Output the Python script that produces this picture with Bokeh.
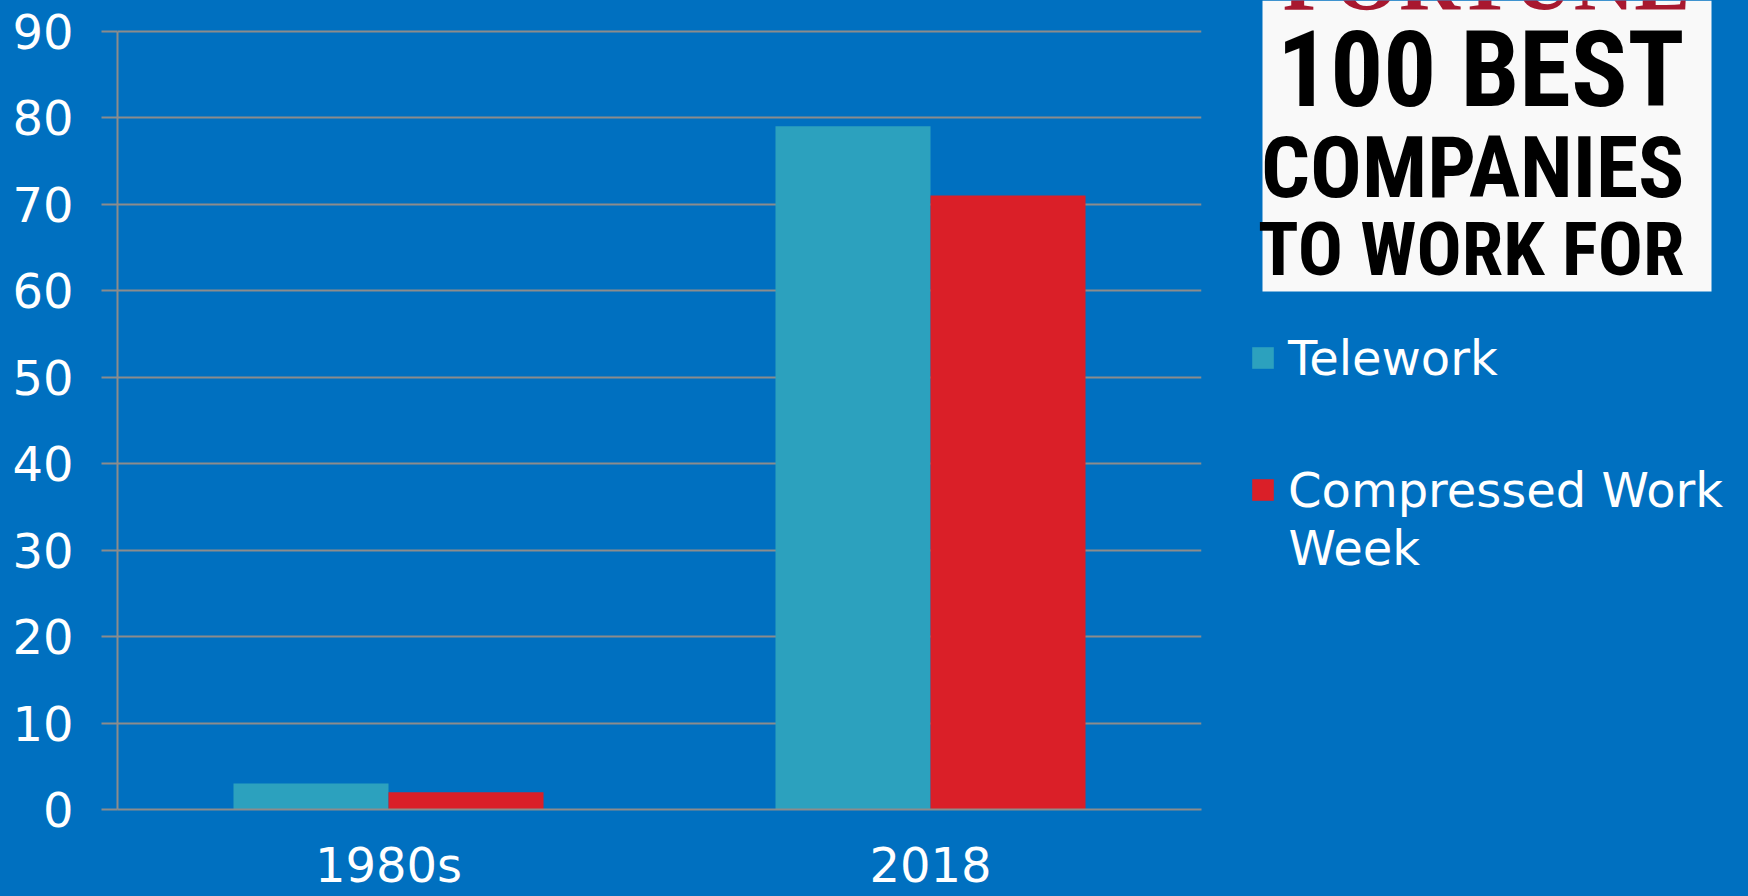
from bokeh.plotting import figure
from bokeh.models import (FactorRange, Range1d, ColumnDataSource, FixedTicker,
                          Legend, LegendItem)
from bokeh.transform import dodge
from bokeh.layouts import row
from bokeh.core.properties import value
from bokeh.embed import file_html
from bokeh.resources import INLINE

# ---- data ----
categories = ["1980s", "2018"]
telework = [3, 79]
compressed = [2, 71]
series_names = ["Telework", "Compressed Work Week"]
series_label_lines = [["Telework"], ["Compressed Work", "Week"]]
series_colors = ["#2ca1be", "#da1f28"]
y_ticks = [0, 10, 20, 30, 40, 50, 60, 70, 80, 90]
logo_title = "FORTUNE"
logo_lines = ["100 BEST", "COMPANIES", "TO WORK FOR"]

BG = "#0070c0"
GRID = "#8c8c8c"
FONT = "DejaVu Sans"
NARROW = "Roboto Condensed, Roboto"
BASE_FIX = 0.35  # em offset of Bokeh's alphabetic baseline

src = ColumnDataSource(dict(cat=categories, telework=telework, compressed=compressed))

p = figure(x_range=FactorRange(factors=categories, range_padding=0),
           y_range=Range1d(0, 93.55), width=1230, height=896,
           output_backend="svg", toolbar_location=None,
           min_border_left=117, min_border_right=29,
           min_border_top=0, min_border_bottom=87,
           background_fill_color=BG, border_fill_color=BG, outline_line_color=None,
           styles={"background-color": BG})

p.vbar(x=dodge("cat", -0.143, range=p.x_range), top="telework", width=0.286,
       source=src, fill_color=series_colors[0], line_color=None)
p.vbar(x=dodge("cat", 0.143, range=p.x_range), top="compressed", width=0.286,
       source=src, fill_color=series_colors[1], line_color=None)

p.xgrid.grid_line_color = None
p.ygrid.ticker = FixedTicker(ticks=y_ticks)
p.ygrid.grid_line_color = GRID
p.ygrid.grid_line_width = 2

ya = p.yaxis[0]
ya.ticker = FixedTicker(ticks=y_ticks)
ya.bounds = (0, 90)
ya.axis_line_color = GRID
ya.axis_line_width = 2
ya.major_tick_line_color = GRID
ya.major_tick_line_width = 2
ya.major_tick_out = 16
ya.major_tick_in = 0
ya.minor_tick_out = 0
ya.minor_tick_in = 0
ya.major_label_text_font = FONT
ya.major_label_text_font_size = "48px"
ya.major_label_text_color = "white"
ya.major_label_standoff = 28

xa = p.xaxis[0]
xa.axis_line_color = GRID
xa.axis_line_width = 2
xa.major_tick_out = 0
xa.major_tick_in = 0
xa.major_tick_line_color = None
xa.major_label_text_font = FONT
xa.major_label_text_font_size = "48px"
xa.major_label_text_color = "white"
xa.major_label_standoff = 27

# ---- side panel: logo + legend ----
side = figure(width=518, height=896, x_range=Range1d(0, 518), y_range=Range1d(809, 0),
              output_backend="svg", toolbar_location=None,
              min_border_left=0, min_border_right=0, min_border_top=0, min_border_bottom=87,
              x_axis_type=None, y_axis_type=None,
              background_fill_color=BG, border_fill_color=BG, outline_line_color=None,
              styles={"background-color": BG})
side.grid.visible = False

side.quad(left=[32], right=[481], top=[0], bottom=[291], fill_color="#f9f9f9", line_color=None)
side.text(x=[256], y=[10 - BASE_FIX * 84], text=[logo_title], text_font=value("Liberation Serif"),
          text_font_style="bold", text_font_size="84px", text_color="#a8182f",
          text_align="center", text_baseline="alphabetic")
for txt, yb, fs in zip(logo_lines, [106.5, 197.5, 275], [105, 86, 75]):
    side.text(x=[454], y=[yb - BASE_FIX * fs], text=[txt], text_font=value(NARROW),
              text_font_style="bold", text_font_size=f"{fs}px", text_color="black",
              text_align="right", text_baseline="alphabetic")

nan = float("nan")
for lines, col, loc in zip(series_label_lines, series_colors, [(19, 423.5), (19, 291.5)]):
    r = side.quad(left=[nan], right=[nan], top=[nan], bottom=[nan],
                  fill_color=col, line_color=None)
    leg = Legend(items=[LegendItem(label=value(lines[0]), renderers=[r])], location=loc,
                 background_fill_alpha=0, border_line_color=None, padding=0, margin=0,
                 glyph_width=27, glyph_height=27, label_height=27, label_standoff=12,
                 label_text_font=FONT, label_text_font_size="48px",
                 label_text_color="white")
    side.add_layout(leg)
    # continuation lines of a wrapped legend label
    first_center = 809 - loc[1] - 28
    for k, extra in enumerate(lines[1:], start=1):
        side.text(x=[58], y=[first_center + 16 + 58.7 * k - BASE_FIX * 48], text=[extra],
                  text_font=value(FONT), text_font_size="48px", text_color="white",
                  text_align="left", text_baseline="alphabetic")

layout = row(p, side, styles={"background-color": BG})
open("out.html", "w").write(file_html(layout, INLINE))
